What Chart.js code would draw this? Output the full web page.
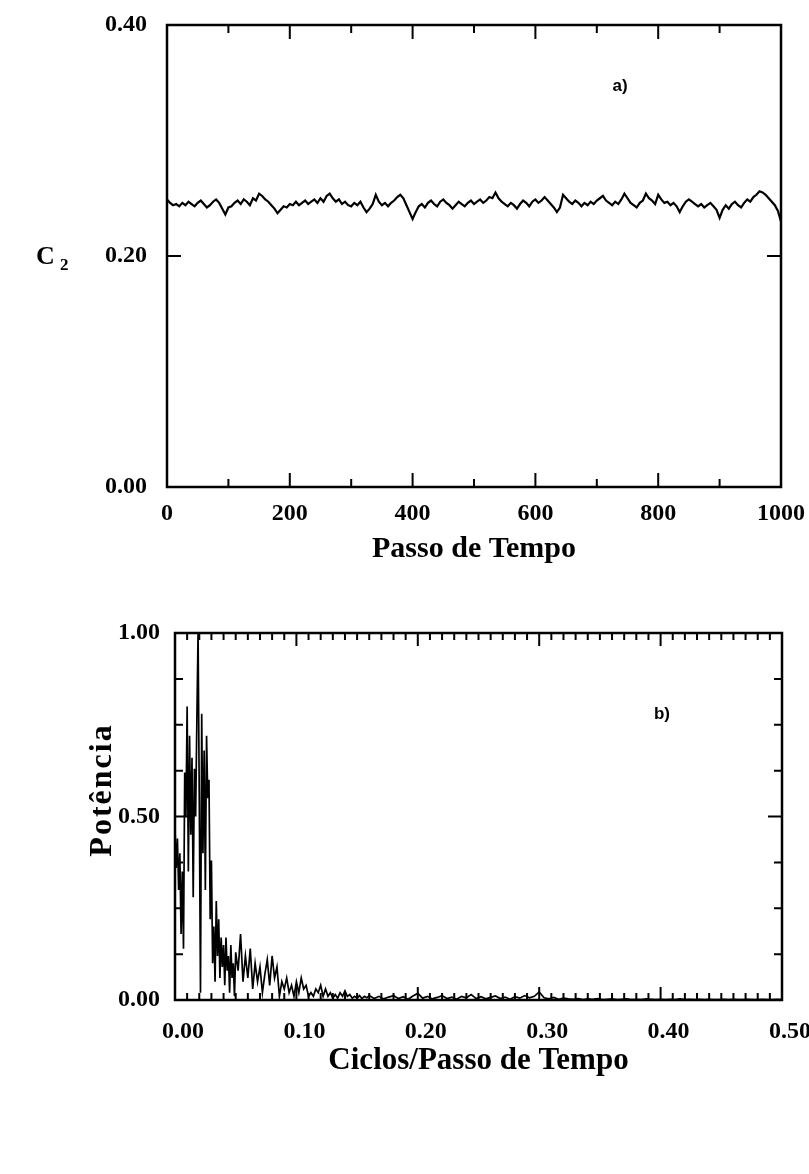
<!DOCTYPE html>
<html>
<head>
<meta charset="utf-8">
<script src="https://cdn.jsdelivr.net/npm/chart.js@4.4.0/dist/chart.umd.min.js"></script>
<style>
  html, body { margin: 0; padding: 0; background: #fff; }
  #wrap { position: relative; width: 809px; height: 1174px; }
  canvas { position: absolute; left: 0; }
</style>
</head>
<body>
<div id="wrap">
  <canvas id="chartA" width="809" height="580" style="top:0"></canvas>
  <canvas id="chartB" width="809" height="594" style="top:580px"></canvas>
</div>
<script>
// (a) C2 over time, sampled every 5 steps from 0 to 1000
const timeStep = 5;
const c2Values = [
  0.249, 0.246, 0.244, 0.245, 0.243, 0.246, 0.244, 0.247, 0.245, 0.243, 0.246, 0.248, 0.245, 0.242, 0.244, 0.247, 0.249, 0.246, 0.241, 0.236, 0.242,
  0.243, 0.246, 0.248, 0.245, 0.249, 0.247, 0.244, 0.250, 0.248, 0.254, 0.252, 0.249, 0.247, 0.244, 0.241, 0.237, 0.240, 0.243, 0.242, 0.245,
  0.244, 0.247, 0.244, 0.246, 0.248, 0.245, 0.247, 0.249, 0.246, 0.250, 0.247, 0.252, 0.254, 0.250, 0.247, 0.249, 0.245, 0.247, 0.244, 0.243,
  0.246, 0.244, 0.247, 0.242, 0.238, 0.241, 0.245, 0.253, 0.247, 0.244, 0.246, 0.243, 0.246, 0.248, 0.251, 0.253, 0.250, 0.244, 0.238, 0.232,
  0.238, 0.243, 0.245, 0.242, 0.246, 0.248, 0.245, 0.243, 0.247, 0.249, 0.246, 0.244, 0.241, 0.244, 0.247, 0.245, 0.243, 0.246, 0.248, 0.245,
  0.247, 0.249, 0.246, 0.248, 0.251, 0.250, 0.255, 0.250, 0.247, 0.245, 0.243, 0.246, 0.244, 0.241, 0.245, 0.248, 0.246, 0.243, 0.247, 0.249,
  0.246, 0.248, 0.251, 0.248, 0.245, 0.242, 0.238, 0.242, 0.253, 0.250, 0.247, 0.245, 0.248, 0.246, 0.243, 0.246, 0.244, 0.247, 0.245, 0.248,
  0.250, 0.252, 0.248, 0.246, 0.244, 0.247, 0.245, 0.249, 0.254, 0.250, 0.246, 0.244, 0.242, 0.246, 0.248, 0.254, 0.250, 0.248, 0.245, 0.253,
  0.249, 0.246, 0.247, 0.244, 0.246, 0.243, 0.238, 0.243, 0.247, 0.249, 0.247, 0.245, 0.243, 0.245, 0.242, 0.244, 0.246, 0.243, 0.240, 0.233,
  0.240, 0.244, 0.241, 0.245, 0.247, 0.244, 0.242, 0.246, 0.249, 0.247, 0.251, 0.253, 0.256, 0.255, 0.253, 0.250, 0.247, 0.244, 0.239, 0.230
];
const timeTicks = [0, 200, 400, 600, 800, 1000];
const c2Ticks = [0.00, 0.20, 0.40];

// (b) power spectrum, three frequency blocks with their own spacing
const powerFineStart = 0.000, powerFineStep = 0.001;
const powerFine = [
  0.47, 0.36, 0.44, 0.30, 0.40, 0.18, 0.35, 0.14, 0.62, 0.50,
  0.80, 0.35, 0.72, 0.45, 0.66, 0.28, 0.63, 0.50, 0.76, 1.00,
  0.55, 0.02, 0.78, 0.40, 0.68, 0.30, 0.72, 0.55, 0.60, 0.22,
  0.38, 0.10, 0.20, 0.05, 0.27, 0.12, 0.22, 0.06, 0.17, 0.09,
  0.15, 0.04, 0.17, 0.08, 0.12, 0.02, 0.15, 0.06, 0.10, 0.01,
  0.13
];
const powerMidStart = 0.052, powerMidStep = 0.002;
const powerMid = [
  0.08, 0.18, 0.05, 0.12, 0.06, 0.14, 0.03, 0.10, 0.05, 0.09,
  0.02, 0.07, 0.11, 0.04, 0.12, 0.06, 0.09, 0.01, 0.05, 0.03,
  0.06, 0.02, 0.04, 0.01, 0.05, 0.02, 0.06, 0.03, 0.04, 0.01,
  0.02, 0.01, 0.03, 0.02, 0.04, 0.01, 0.03, 0.01, 0.02, 0.005,
  0.015, 0.005, 0.02, 0.01, 0.025, 0.01, 0.015, 0.005, 0.01, 0.005,
  0.012, 0.004, 0.01, 0.006, 0.012
];
const powerTailStart = 0.164, powerTailStep = 0.004;
const powerTail = [
  0.004, 0.010, 0.003, 0.008, 0.012, 0.004, 0.009, 0.002, 0.011, 0.018,
  0.005, 0.010, 0.003, 0.007, 0.012, 0.004, 0.008, 0.002, 0.010, 0.006,
  0.015, 0.004, 0.009, 0.003, 0.007, 0.011, 0.004, 0.008, 0.002, 0.009,
  0.005, 0.012, 0.006, 0.010, 0.022, 0.006, 0.003, 0.007, 0.002, 0.005,
  0.003, 0.002, 0.004, 0.001, 0.003, 0.002, 0.004, 0.001, 0.002, 0.003,
  0.001, 0.002, 0.003, 0.001, 0.002, 0.001, 0.003, 0.002, 0.001, 0.002,
  0.001, 0.002, 0.001, 0.003, 0.001, 0.002, 0.001, 0.002, 0.001, 0.002,
  0.001, 0.001, 0.002, 0.001, 0.002, 0.001, 0.001, 0.002, 0.001, 0.001,
  0.002, 0.001, 0.001, 0.002, 0.001
];
const freqTicks = [0.00, 0.10, 0.20, 0.30, 0.40, 0.50];
const powerTicks = [0.00, 0.50, 1.00];

// ---- build point lists ----
const c2Points = c2Values.map((v, i) => ({ x: i * timeStep, y: v }));
function block(start, step, vals) {
  return vals.map((v, i) => ({ x: Math.round((start + i * step) * 1000) / 1000, y: v }));
}
const powerPoints = [
  ...block(powerFineStart, powerFineStep, powerFine),
  ...block(powerMidStart, powerMidStep, powerMid),
  ...block(powerTailStart, powerTailStep, powerTail)
];

Chart.defaults.font.family = "'Liberation Serif', 'Times New Roman', serif";
Chart.defaults.color = '#000';

// Boxed frame with inward ticks on all four sides
const frameTicks = {
  id: 'frameTicks',
  afterDraw(chart, args, o) {
    const { ctx, chartArea: a, scales } = chart;
    const xs = scales.x, ys = scales.y;
    ctx.save();
    ctx.strokeStyle = '#000';
    ctx.lineCap = 'butt';
    ctx.lineWidth = 2.5;
    ctx.strokeRect(a.left, a.top, a.right - a.left, a.bottom - a.top);
    ctx.lineWidth = 2;
    const marks = (scale, step, every, horiz, majorLen, minorLen) => {
      const n = Math.round((scale.max - scale.min) / step);
      for (let i = 1; i < n; i++) {
        const p = scale.getPixelForValue(scale.min + i * step);
        const len = (i % every === 0) ? majorLen : minorLen;
        ctx.beginPath();
        if (horiz) {
          ctx.moveTo(p, a.bottom); ctx.lineTo(p, a.bottom - len);
          ctx.moveTo(p, a.top); ctx.lineTo(p, a.top + len);
        } else {
          ctx.moveTo(a.left, p); ctx.lineTo(a.left + len, p);
          ctx.moveTo(a.right, p); ctx.lineTo(a.right - len, p);
        }
        ctx.stroke();
      }
    };
    marks(xs, o.xMinor, o.xEvery, true, o.xMajorLen, o.xMinorLen);
    marks(ys, o.yMinor, o.yEvery, false, o.yMajorLen, o.yMinorLen);
    ctx.restore();
  }
};

// Free-standing labels (axis names, panel tags)
const freeText = {
  id: 'freeText',
  afterDraw(chart, args, o) {
    const { ctx } = chart;
    ctx.save();
    ctx.fillStyle = '#000';
    (o.items || []).forEach(t => {
      ctx.save();
      ctx.font = t.font;
      if (t.spacing) ctx.letterSpacing = t.spacing;
      ctx.textAlign = t.align || 'left';
      ctx.textBaseline = t.baseline || 'alphabetic';
      ctx.translate(t.x, t.y);
      if (t.rotate) ctx.rotate(t.rotate);
      ctx.fillText(t.text, 0, 0);
      ctx.restore();
    });
    ctx.restore();
  }
};

// keep the plot box where the layout padding puts it
const noLabelPadX = s => { s.paddingLeft = 0; s.paddingRight = 0; };
const noLabelPadY = s => { s.paddingTop = 0; s.paddingBottom = 0; };

const tickFont = { size: 24, weight: 'bold' };

new Chart(document.getElementById('chartA'), {
  type: 'line',
  data: {
    datasets: [{
      data: c2Points,
      borderColor: '#000',
      borderWidth: 2.2,
      pointRadius: 0,
      tension: 0,
      fill: false
    }]
  },
  options: {
    responsive: false,
    animation: false,
    events: [],
    layout: { padding: { left: 0, right: 28, top: 25, bottom: 0 } },
    plugins: {
      legend: { display: false },
      tooltip: { enabled: false },
      frameTicks: {
        xMinor: 100, xEvery: 2, xMajorLen: 14, xMinorLen: 8,
        yMinor: 0.2, yEvery: 1, yMajorLen: 14, yMinorLen: 14
      },
      freeText: {
        items: [
          { text: 'C', x: 36, y: 264, font: "bold 26px 'Liberation Serif'" },
          { text: '2', x: 60, y: 270, font: "bold 17px 'Liberation Serif'" },
          { text: 'a)', x: 620, y: 91, align: 'center', font: "bold 17px 'Liberation Sans'" }
        ]
      }
    },
    scales: {
      x: {
        type: 'linear',
        min: 0, max: 1000,
        afterFit: s => { s.height = 93; noLabelPadX(s); },
        afterBuildTicks: s => { s.ticks = timeTicks.map(v => ({ value: v })); },
        grid: { display: false, drawTicks: false },
        border: { display: false },
        ticks: { font: tickFont, padding: 12, maxRotation: 0, autoSkip: false, callback: v => String(v) },
        title: {
          display: true, text: 'Passo de Tempo',
          font: { size: 30, weight: 'bold' },
          padding: { top: 0, bottom: 13 }
        }
      },
      y: {
        type: 'linear',
        min: 0, max: 0.4,
        afterFit: s => { s.width = 167; noLabelPadY(s); },
        afterBuildTicks: s => { s.ticks = c2Ticks.map(v => ({ value: v })); },
        grid: { display: false, drawTicks: false },
        border: { display: false },
        ticks: { font: tickFont, padding: 20, callback: v => v.toFixed(2) }
      }
    }
  },
  plugins: [frameTicks, freeText]
});

new Chart(document.getElementById('chartB'), {
  type: 'line',
  data: {
    datasets: [{
      data: powerPoints,
      borderColor: '#000',
      borderWidth: 1.7,
      pointRadius: 0,
      tension: 0,
      fill: false
    }]
  },
  options: {
    responsive: false,
    animation: false,
    events: [],
    layout: { padding: { left: 0, right: 27, top: 53, bottom: 94 } },
    plugins: {
      legend: { display: false },
      tooltip: { enabled: false },
      frameTicks: {
        xMinor: 0.01, xEvery: 10, xMajorLen: 13, xMinorLen: 7,
        yMinor: 0.125, yEvery: 4, yMajorLen: 14, yMinorLen: 8
      },
      freeText: {
        items: [
          { text: 'Potência', x: 111, y: 210, align: 'center', rotate: -Math.PI / 2, spacing: '2px', font: "bold 32px 'Liberation Serif'" },
          { text: 'b)', x: 662, y: 139, align: 'center', font: "bold 17px 'Liberation Sans'" }
        ]
      }
    },
    scales: {
      x: {
        type: 'linear',
        min: 0, max: 0.5,
        afterFit: s => { s.height = 80; noLabelPadX(s); },
        afterBuildTicks: s => { s.ticks = freqTicks.map(v => ({ value: v })); },
        grid: { display: false, drawTicks: false },
        border: { display: false },
        ticks: { font: tickFont, padding: 17, labelOffset: 8, maxRotation: 0, autoSkip: false, callback: v => v.toFixed(2) },
        title: {
          display: true, text: 'Ciclos/Passo de Tempo',
          font: { size: 31, weight: 'bold' },
          padding: { top: 0, bottom: 0 }
        }
      },
      y: {
        type: 'linear',
        min: 0, max: 1,
        afterFit: s => { s.width = 175; noLabelPadY(s); },
        afterBuildTicks: s => { s.ticks = powerTicks.map(v => ({ value: v })); },
        grid: { display: false, drawTicks: false },
        border: { display: false },
        ticks: { font: tickFont, padding: 15, callback: v => v.toFixed(2) }
      }
    }
  },
  plugins: [frameTicks, freeText]
});
</script>
</body>
</html>
